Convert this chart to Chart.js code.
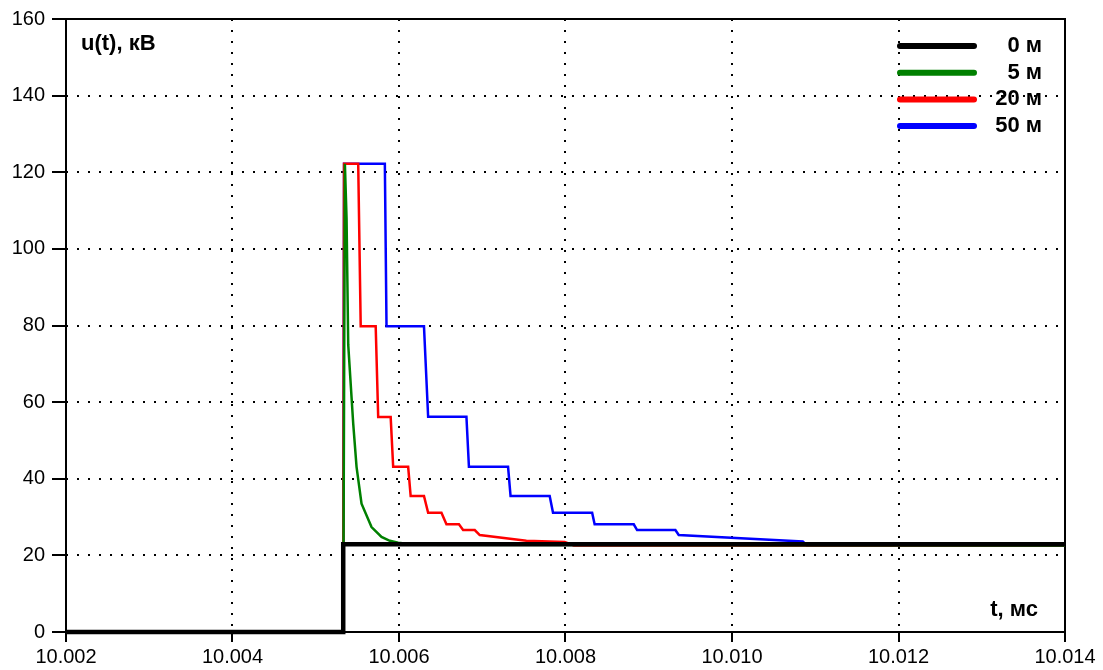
<!DOCTYPE html>
<html>
<head>
<meta charset="utf-8">
<script src="https://cdn.jsdelivr.net/npm/chart.js@4/dist/chart.umd.min.js"></script>
<style>
  html, body { margin: 0; padding: 0; background: #fff; }
  canvas { display: block; }
</style>
</head>
<body>
<canvas id="myChart" width="1103" height="670"></canvas>
<script>
// values: t in ms, u in kV
let labels = ["0 м", "5 м", "20 м", "50 м"];
let colors = ["#000000", "#008000", "#ff0000", "#0000ff"];

let blackT = [10.002, 10.00533, 10.00533, 10.014];
let blackU = [0, 0, 22.9, 22.9];

let greenT = [10.00533, 10.00535, 10.00537, 10.00539, 10.00545, 10.00549, 10.00555, 10.00567, 10.00579, 10.00589, 10.00599, 10.0062, 10.014];
let greenU = [0, 122.2, 108, 75, 54.4, 43.1, 33.5, 27.4, 24.8, 23.8, 23.3, 22.8, 22.6];

let redT = [10.00533, 10.00534, 10.00551, 10.00554, 10.00572, 10.00575, 10.0059, 10.00593, 10.00611, 10.00614, 10.0063, 10.00635, 10.00651, 10.00657, 10.00672, 10.00677, 10.00691, 10.00697, 10.00753, 10.00799, 10.0081, 10.014];
let redU = [0, 122.2, 122.2, 79.8, 79.8, 56.1, 56.1, 43.1, 43.1, 35.5, 35.5, 31.1, 31.1, 28.1, 28.1, 26.6, 26.6, 25.3, 23.8, 23.5, 22.6, 22.6];

let blueT = [10.00533, 10.00534, 10.00583, 10.00585, 10.0063, 10.00635, 10.00681, 10.00684, 10.00731, 10.00734, 10.00781, 10.00785, 10.00832, 10.00835, 10.00882, 10.00886, 10.00932, 10.00936, 10.01085, 10.0109, 10.014];
let blueU = [0, 122.2, 122.2, 79.8, 79.8, 56.2, 56.2, 43.1, 43.1, 35.5, 35.5, 31.1, 31.1, 28.1, 28.1, 26.6, 26.6, 25.3, 23.6, 22.6, 22.6];

let xTicks = [10.002, 10.004, 10.006, 10.008, 10.010, 10.012, 10.014];
let yTicks = [0, 20, 40, 60, 80, 100, 120, 140, 160];

const FONT = "'Liberation Sans', Arial, sans-serif";

function points(ts, us) {
    return ts.map((t, i) => ({ x: t, y: us[i] }));
}

function makeSet(i, ts, us, width) {
    return {
        label: labels[i],
        data: points(ts, us),
        borderColor: colors[i],
        borderWidth: width,
        pointRadius: 0,
        tension: 0,
        clip: false,
        fill: false
    };
}

// frame around plot area
const frame = {
    id: "frame",
    beforeDatasetsDraw(chart) {
        const { ctx, chartArea: a } = chart;
        ctx.save();
        ctx.strokeStyle = "#000";
        ctx.lineWidth = 2;
        ctx.strokeRect(a.left, a.top, a.right - a.left, a.bottom - a.top);
        ctx.restore();
    }
};

// axis titles and legend drawn inside the plot
const extras = {
    id: "extras",
    afterDraw(chart) {
        const ctx = chart.ctx;
        ctx.save();
        ctx.fillStyle = "#000";
        ctx.font = "bold 22px " + FONT;
        ctx.textBaseline = "middle";
        ctx.textAlign = "left";
        ctx.fillText("u(t), кВ", 81, 44);
        ctx.textAlign = "right";
        ctx.fillText("t, мс", 1038, 610);

        chart.data.datasets.forEach((ds, i) => {
            let y = 46 + i * 26.7;
            ctx.strokeStyle = ds.borderColor;
            ctx.lineWidth = 6;
            ctx.lineCap = "round";
            ctx.beginPath();
            ctx.moveTo(900, y);
            ctx.lineTo(974, y);
            ctx.stroke();
            ctx.fillText(ds.label, 1042, y);
        });
        ctx.restore();
    }
};

Chart.defaults.font.family = FONT;
Chart.defaults.color = "#000";

let chart = new Chart(document.getElementById("myChart"), {
    type: "line",
    data: {
        datasets: [
            makeSet(0, blackT, blackU, 4.5),
            makeSet(1, greenT, greenU, 2.5),
            makeSet(2, redT, redU, 2.5),
            makeSet(3, blueT, blueU, 2.5)
        ]
    },
    options: {
        responsive: false,
        animation: false,
        devicePixelRatio: 1,
        layout: { padding: { top: 18, right: 38, left: 0, bottom: 0 } },
        plugins: { legend: { display: false }, tooltip: { enabled: false } },
        scales: {
            x: {
                type: "linear",
                min: 10.002,
                max: 10.014,
                afterBuildTicks: (s) => { s.ticks = xTicks.map(v => ({ value: v })); },
                afterFit: (s) => { s.height = 38; },
                ticks: {
                    font: { size: 20 },
                    padding: 3,
                    maxRotation: 0,
                    autoSkip: false,
                    callback: (v) => Number(v).toFixed(3)
                },
                grid: {
                    color: "#000",
                    lineWidth: 2,
                    tickLength: 10,
                    tickWidth: 2,
                    tickColor: "#000"
                },
                border: { display: false, dash: [2, 9] }
            },
            y: {
                min: 0,
                max: 160,
                afterBuildTicks: (s) => { s.ticks = yTicks.map(v => ({ value: v })); },
                afterFit: (s) => { s.width = 66; },
                ticks: { font: { size: 20 }, padding: 7, autoSkip: false },
                grid: {
                    color: "#000",
                    lineWidth: 2,
                    tickLength: 14,
                    tickWidth: 2,
                    tickColor: "#000"
                },
                border: { display: false, dash: [2, 9] }
            }
        }
    },
    plugins: [frame, extras]
});
</script>
</body>
</html>
